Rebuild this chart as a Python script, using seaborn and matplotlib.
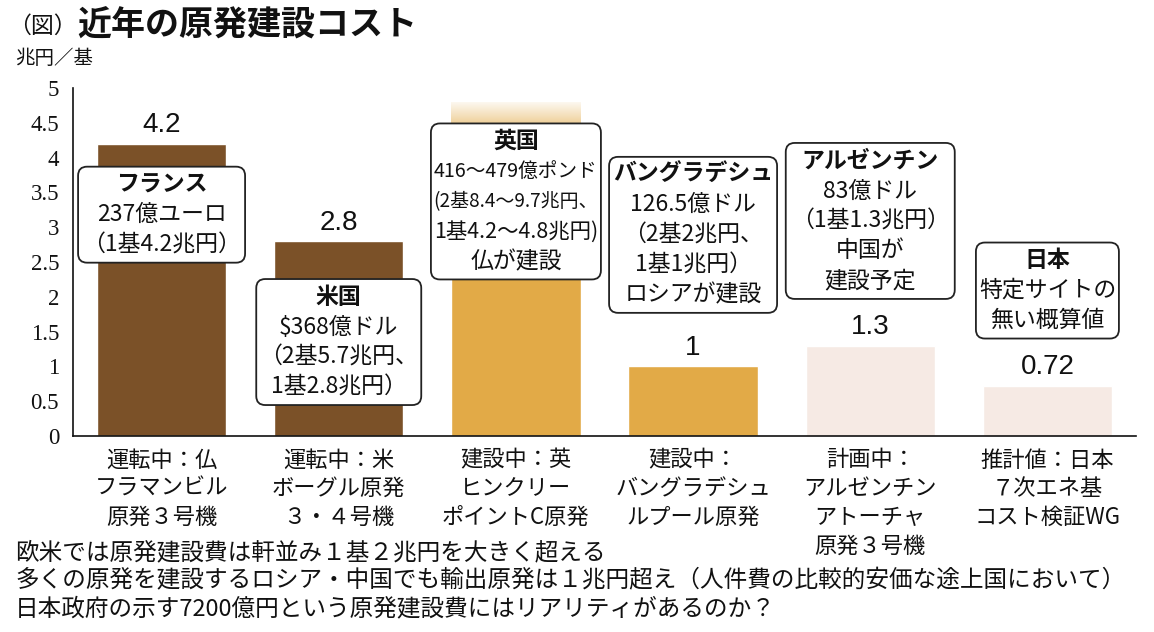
import numpy as np
import pandas as pd
import matplotlib
matplotlib.use("Agg")
import matplotlib.pyplot as plt
import matplotlib.transforms as mtransforms
from matplotlib.colors import LinearSegmentedColormap, to_rgb
from matplotlib.patches import FancyBboxPatch
import seaborn as sns

# --- data ---
sites = ["フラマンビル", "ボーグル", "ヒンクリー", "ルプール", "アトーチャ", "日本"]
costs = [4.2, 2.8, 4.2, 1.0, 1.3, 0.72]          # 兆円／基
cost_labels = ["4.2", "2.8", "", "1", "1.3", "0.72"]
uk_range = [4.2, 4.8]                             # 英国は 4.2～4.8兆円
status = ["運転中", "運転中", "建設中", "建設中", "計画中", "推計値"]

tick_labels = [
    "運転中：仏\nフラマンビル\n原発３号機",
    "運転中：米\nボーグル原発\n３・４号機",
    "建設中：英\nヒンクリー\nポイントC原発",
    "建設中：\nバングラデシュ\nルプール原発",
    "計画中：\nアルゼンチン\nアトーチャ\n原発３号機",
    "推計値：日本\n７次エネ基\nコスト検証WG",
]
ytick_values = [0, 0.5, 1, 1.5, 2, 2.5, 3, 3.5, 4, 4.5, 5]
ytick_labels = ["0", "0.5", "1", "1.5", "2", "2.5", "3", "3.5", "4", "4.5", "5"]

box_texts = [
    ["フランス", "237億ユーロ", "（1基4.2兆円）"],
    ["米国", "$368億ドル", "（2基5.7兆円、", "1基2.8兆円）"],
    ["英国", "416～479億ポンド", "(2基8.4～9.7兆円、", "1基4.2～4.8兆円)", "仏が建設"],
    ["バングラデシュ", "126.5億ドル", "（2基2兆円、", "1基1兆円）", "ロシアが建設"],
    ["アルゼンチン", "83億ドル", "（1基1.3兆円）", "中国が", "建設予定"],
    ["日本", "特定サイトの", "無い概算値"],
]

notes = [
    "欧米では原発建設費は軒並み１基２兆円を大きく超える",
    "多くの原発を建設するロシア・中国でも輸出原発は１兆円超え（人件費の比較的安価な途上国において）",
    "日本政府の示す7200億円という原発建設費にはリアリティがあるのか？",
]

# --- layout / style ---
status_colors = {"運転中": "#7b5128", "建設中": "#e2aa47", "計画中": "#f6eae4", "推計値": "#f6eae4"}
box_y = [3.18, 1.35, 3.37, 2.89, 3.09, 2.09]      # box centres (data y)
box_w = [167, 165, 170, 168, 169, 143]            # box widths in px
line_px = 30

sns.set_style("white")
plt.rcParams["font.family"] = ["Noto Sans CJK JP", "DejaVu Sans"]

fig = plt.figure(figsize=(11.54, 6.32), dpi=100)
ax = fig.add_axes([73 / 1154, 196 / 632, 1063 / 1154, 348 / 632])

df = pd.DataFrame({"site": sites, "cost": costs, "status": status})
palette = [status_colors[s] for s in status]
sns.barplot(data=df, x="site", y="cost", hue="site", palette=palette,
            width=0.73, saturation=1, legend=False, ax=ax, zorder=2)

# faded top of the UK bar (range 4.2 - 4.8)
gold = np.array(to_rgb(status_colors["建設中"]))
fade = LinearSegmentedColormap.from_list("fade", [gold, 0.92 + 0.08 * gold])
ax.imshow(np.linspace(0, 1, 200).reshape(-1, 1), origin="lower", cmap=fade,
          extent=(2 - 0.365, 2 + 0.365, uk_range[0], uk_range[1]),
          aspect="auto", zorder=2)

for cont, lab in zip(ax.containers, cost_labels):
    ax.bar_label(cont, labels=[lab], padding=4, fontsize=20,
                 family=["Liberation Sans", "DejaVu Sans"], color="#111")

ax.set_xlim(-0.5, 5.5)
ax.set_ylim(0, 5)
ax.set_xlabel("")
ax.set_ylabel("")
ax.set_xticks(range(len(sites)))
ax.set_xticklabels(tick_labels, fontsize=16, linespacing=1.31, color="#111")
ax.set_yticks(ytick_values)
ax.set_yticklabels(ytick_labels, fontsize=16.5,
                   family=["Liberation Serif", "DejaVu Serif"], color="#111")
ax.tick_params(axis="both", length=0)
ax.tick_params(axis="x", pad=9)
ax.tick_params(axis="y", pad=10)
for side in ["top", "right"]:
    ax.spines[side].set_visible(False)
for side in ["left", "bottom"]:
    ax.spines[side].set_color("#111")
    ax.spines[side].set_linewidth(1.2)

# annotation boxes
body_texts = []
for i, lines in enumerate(box_texts):
    n = len(lines)
    h = n * line_px + 6
    w = box_w[i]
    trans = fig.dpi_scale_trans + mtransforms.ScaledTranslation(i, box_y[i], ax.transData)
    ax.add_patch(FancyBboxPatch((-w / 200, -h / 200), w / 100, h / 100,
                                boxstyle="round,pad=0,rounding_size=0.09",
                                transform=trans, fc="white", ec="#222",
                                lw=1.3, zorder=4, clip_on=False))
    for k, s in enumerate(lines):
        off = ((n - 1) / 2 - k) * line_px
        t = ax.annotate(s, xy=(i, box_y[i]), xytext=(0, off), textcoords="offset pixels",
                        ha="center", va="center", fontsize=16.5, color="#111",
                        fontweight="bold" if k == 0 else "normal",
                        zorder=5, annotation_clip=False)
        body_texts.append((t, w))

fig.canvas.draw()
renderer = fig.canvas.get_renderer()
for t, w in body_texts:
    tw = t.get_window_extent(renderer).width
    if tw > w - 6:
        t.set_fontsize(t.get_fontsize() * (w - 6) / tw)

# titles and notes
fig.text(8 / 1154, 1 - 26 / 632, "（図）", fontsize=16.5, va="center", color="#111")
fig.text(77 / 1154, 1 - 25 / 632, "近年の原発建設コスト", fontsize=24.5,
         fontweight="bold", va="center", color="#111")
fig.text(15 / 1154, 1 - 59 / 632, "兆円／基", fontsize=14, va="center", color="#111")
for k, s in enumerate(notes):
    fig.text(15 / 1154, 1 - (553 + 28 * k) / 632, s, fontsize=17, va="center", color="#111")

fig.savefig("out.png", dpi=100)
